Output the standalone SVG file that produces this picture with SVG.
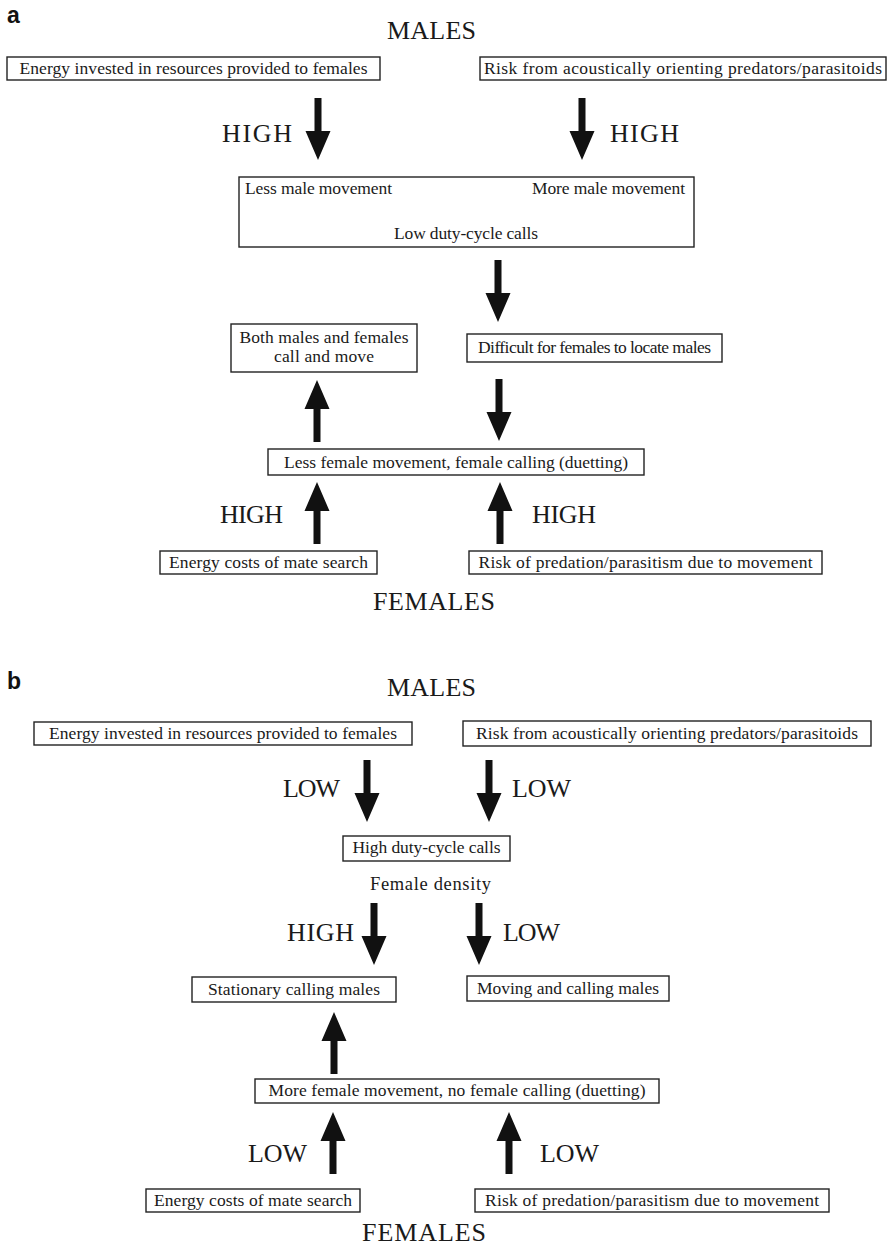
<svg xmlns="http://www.w3.org/2000/svg" xmlns:xlink="http://www.w3.org/1999/xlink" width="887" height="1248" viewBox="0 0 887 1248">
<style>
.bx{fill:#fff;stroke:#222;stroke-width:1.4}
.t{font-family:"Liberation Serif","Times New Roman",serif;font-size:17.5px;fill:#1a1a1a}
.c{text-anchor:middle}
.lbl{font-family:"Liberation Serif","Times New Roman",serif;font-size:26px;fill:#1a1a1a}
.pl{font-family:"Liberation Sans",Arial,sans-serif;font-size:23px;font-weight:bold;fill:#111}
.ar{fill:#111}
</style>
<defs>
<path id="dn" d="M-3.5,-62 H3.5 V-29 H12.5 L0,0 L-12.5,-29 H-3.5 Z"/>
</defs>
<rect width="887" height="1248" fill="#fff"/>

<!-- Panel a -->
<text class="pl" x="7" y="23">a</text>
<text class="lbl" x="387" y="39" textLength="89">MALES</text>
<g id="a-energy"><rect class="bx" x="7" y="57" width="373" height="23"/><text class="t c" x="193.5" y="74" textLength="348">Energy invested in resources provided to females</text></g>
<g id="a-risk"><rect class="bx" x="480" y="57" width="406" height="23"/><text class="t c" x="683" y="74" textLength="398">Risk from acoustically orienting predators/parasitoids</text></g>
<g id="a-calls"><rect class="bx" x="239" y="177" width="455" height="70"/>
<text class="t" x="245" y="194" textLength="147">Less male movement</text>
<text class="t" x="532" y="194" textLength="153">More male movement</text>
<text class="t" x="394" y="239" textLength="144">Low duty-cycle calls</text></g>
<g id="a-both"><rect class="bx" x="231" y="324" width="186" height="48"/>
<text class="t c" x="324" y="343" textLength="169">Both males and females</text>
<text class="t c" x="324" y="362" textLength="100">call and move</text></g>
<g id="a-difficult"><rect class="bx" x="467" y="334" width="255" height="28"/><text class="t c" x="594.5" y="353" textLength="233">Difficult for females to locate males</text></g>
<g id="a-lessfemale"><rect class="bx" x="268" y="449" width="376" height="26"/><text class="t c" x="456" y="468" textLength="344">Less female movement, female calling (duetting)</text></g>
<g id="a-fenergy"><rect class="bx" x="160" y="551" width="217" height="23"/><text class="t c" x="268.5" y="568" textLength="199">Energy costs of mate search</text></g>
<g id="a-frisk"><rect class="bx" x="469" y="551" width="353" height="23"/><text class="t c" x="645.5" y="568" textLength="334">Risk of predation/parasitism due to movement</text></g>
<text class="lbl" x="373" y="610" textLength="122">FEMALES</text>

<!-- Panel b -->
<text class="pl" x="7" y="689">b</text>
<text class="lbl" x="387" y="696" textLength="89">MALES</text>
<g id="b-energy"><rect class="bx" x="34" y="722" width="378" height="23"/><text class="t c" x="223" y="739" textLength="348">Energy invested in resources provided to females</text></g>
<g id="b-risk"><rect class="bx" x="463" y="721" width="408" height="25"/><text class="t c" x="667" y="739" textLength="382">Risk from acoustically orienting predators/parasitoids</text></g>
<g id="b-high"><rect class="bx" x="343" y="836" width="167" height="25"/><text class="t c" x="426.5" y="853" textLength="148">High duty-cycle calls</text></g>
<text class="t" x="370" y="890" textLength="121" style="font-size:18.5px">Female density</text>
<g id="b-stationary"><rect class="bx" x="192" y="977" width="204" height="25"/><text class="t c" x="294" y="995" textLength="172">Stationary calling males</text></g>
<g id="b-moving"><rect class="bx" x="467" y="976" width="202" height="25"/><text class="t c" x="568" y="994" textLength="182">Moving and calling males</text></g>
<g id="b-morefemale"><rect class="bx" x="255" y="1079" width="404" height="24"/><text class="t c" x="457" y="1096" textLength="377">More female movement, no female calling (duetting)</text></g>
<g id="b-fenergy"><rect class="bx" x="146" y="1189" width="214" height="23"/><text class="t c" x="253" y="1206" textLength="198">Energy costs of mate search</text></g>
<g id="b-frisk"><rect class="bx" x="475" y="1189" width="354" height="23"/><text class="t c" x="652" y="1206" textLength="334">Risk of predation/parasitism due to movement</text></g>
<text class="lbl" x="362" y="1241" textLength="124">FEMALES</text>

<!-- Connectors -->
<g id="connectors" class="ar">
<use xlink:href="#dn" href="#dn" transform="translate(318,160)"/>
<use xlink:href="#dn" href="#dn" transform="translate(582,160)"/>
<use xlink:href="#dn" href="#dn" transform="translate(498,322)"/>
<use xlink:href="#dn" href="#dn" transform="translate(317,380) rotate(180)"/>
<use xlink:href="#dn" href="#dn" transform="translate(499,441)"/>
<use xlink:href="#dn" href="#dn" transform="translate(317,482) rotate(180)"/>
<use xlink:href="#dn" href="#dn" transform="translate(500,482) rotate(180)"/>
<use xlink:href="#dn" href="#dn" transform="translate(367,822)"/>
<use xlink:href="#dn" href="#dn" transform="translate(489,822)"/>
<use xlink:href="#dn" href="#dn" transform="translate(374,965)"/>
<use xlink:href="#dn" href="#dn" transform="translate(479,965)"/>
<use xlink:href="#dn" href="#dn" transform="translate(334,1012) rotate(180)"/>
<use xlink:href="#dn" href="#dn" transform="translate(333,1112) rotate(180)"/>
<use xlink:href="#dn" href="#dn" transform="translate(509,1112) rotate(180)"/>
</g>
<g id="labels">
<text class="lbl" x="222" y="142" textLength="70">HIGH</text>
<text class="lbl" x="610" y="142" textLength="69">HIGH</text>
<text class="lbl" x="220" y="523" textLength="63">HIGH</text>
<text class="lbl" x="532" y="523" textLength="64">HIGH</text>
<text class="lbl" x="283" y="797" textLength="57">LOW</text>
<text class="lbl" x="512" y="797" textLength="59">LOW</text>
<text class="lbl" x="287" y="941" textLength="67">HIGH</text>
<text class="lbl" x="503" y="941" textLength="57">LOW</text>
<text class="lbl" x="248" y="1162" textLength="59">LOW</text>
<text class="lbl" x="540" y="1162" textLength="59">LOW</text>
</g>
</svg>
